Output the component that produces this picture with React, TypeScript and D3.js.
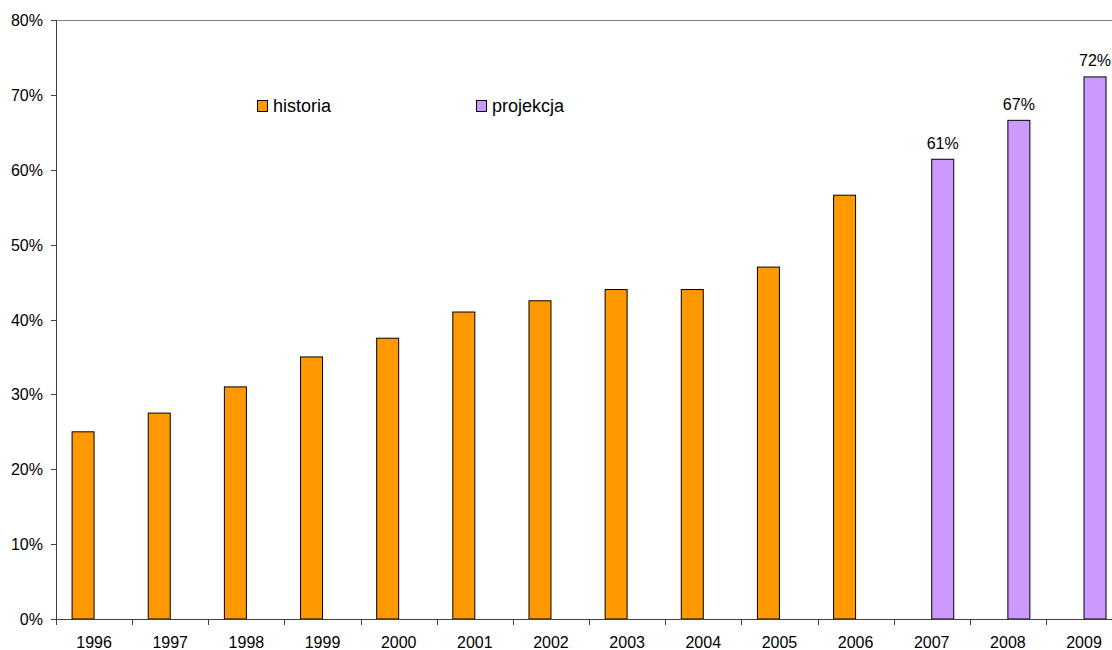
import React from "react";
import * as d3 from "d3";

const years = ["1996","1997","1998","1999","2000","2001","2002","2003","2004","2005","2006","2007","2008","2009"];
const historia: (number | null)[] = [25, 27.5, 31, 35, 37.5, 41, 42.5, 44, 44, 47, 56.6, null, null, null];
const projekcja: (number | null)[] = [null, null, null, null, null, null, null, null, null, null, null, 61.4, 66.6, 72.4];
const projLabels = ["61%", "67%", "72%"];
const yTicks = [0, 10, 20, 30, 40, 50, 60, 70, 80];
const seriesNames = ["historia", "projekcja"];
const colors = ["#FF9900", "#CC99FF"];

export default function App() {
  const W = 1112, H = 650;
  const left = 56, top = 20, bottom = 619;
  const bandW = 76.15;
  const right = left + bandW * years.length;
  const x = d3.scaleBand().domain(years).range([left, right]).paddingInner(0).paddingOuter(0);
  const y = d3.scaleLinear().domain([0, 80]).range([bottom, top]);
  const barW = 22;
  const font = "Arial, 'Liberation Sans', sans-serif";
  const series = [historia, projekcja];
  let projIdx = 0;
  return (
    <svg width={W} height={H} style={{ position: "absolute", left: 0, top: 0 }} fontFamily={font}>
      <rect x={0} y={0} width={W} height={H} fill="#fff" />
      <line x1={left} x2={W} y1={top + 0.5} y2={top + 0.5} stroke="#808080" strokeWidth={1} />
      {yTicks.map((t) => (
        <g key={t}>
          <line x1={left - 5} x2={left} y1={Math.round(y(t)) + 0.5} y2={Math.round(y(t)) + 0.5} stroke="#404040" />
          <text x={43} y={y(t) + 6} textAnchor="end" fontSize={16} fill="#000">{t}%</text>
        </g>
      ))}
      {series.map((s, si) =>
        s.map((v, i) => {
          if (v == null) return null;
          const c = (x(years[i]) as number) + bandW / 2;
          const bx = si === 0 ? c - barW : c;
          return (
            <rect key={si + "-" + i} x={bx} y={y(v)} width={barW} height={bottom - y(v)}
              fill={colors[si]} stroke="#000" strokeWidth={1} />
          );
        })
      )}
      {projekcja.map((v, i) => {
        if (v == null) return null;
        const c = (x(years[i]) as number) + bandW / 2;
        const lbl = projLabels[projIdx++];
        return (
          <text key={"l" + i} x={c + barW / 2} y={y(v) - 10.5} textAnchor="middle" fontSize={16} fill="#000">{lbl}</text>
        );
      })}
      <line x1={left + 0.5} x2={left + 0.5} y1={top} y2={bottom} stroke="#404040" strokeWidth={1} />
      <line x1={left} x2={right} y1={bottom + 0.5} y2={bottom + 0.5} stroke="#404040" strokeWidth={1} />
      {years.map((yr) => (
        <g key={yr}>
          <line x1={Math.round((x(yr) as number)) + 0.5} x2={Math.round((x(yr) as number)) + 0.5} y1={bottom} y2={bottom + 6} stroke="#404040" />
          <text x={(x(yr) as number) + bandW / 2} y={648} textAnchor="middle" fontSize={16} fill="#000">{yr}</text>
        </g>
      ))}
      {seriesNames.map((n, i) => {
        const lx = i === 0 ? 257 : 476;
        return (
          <g key={n}>
            <rect x={lx + 0.5} y={100.5} width={10} height={11} fill={colors[i]} stroke="#000" strokeWidth={1} />
            <text x={lx + 16} y={112} fontSize={18} fill="#000">{n}</text>
          </g>
        );
      })}
    </svg>
  );
}
